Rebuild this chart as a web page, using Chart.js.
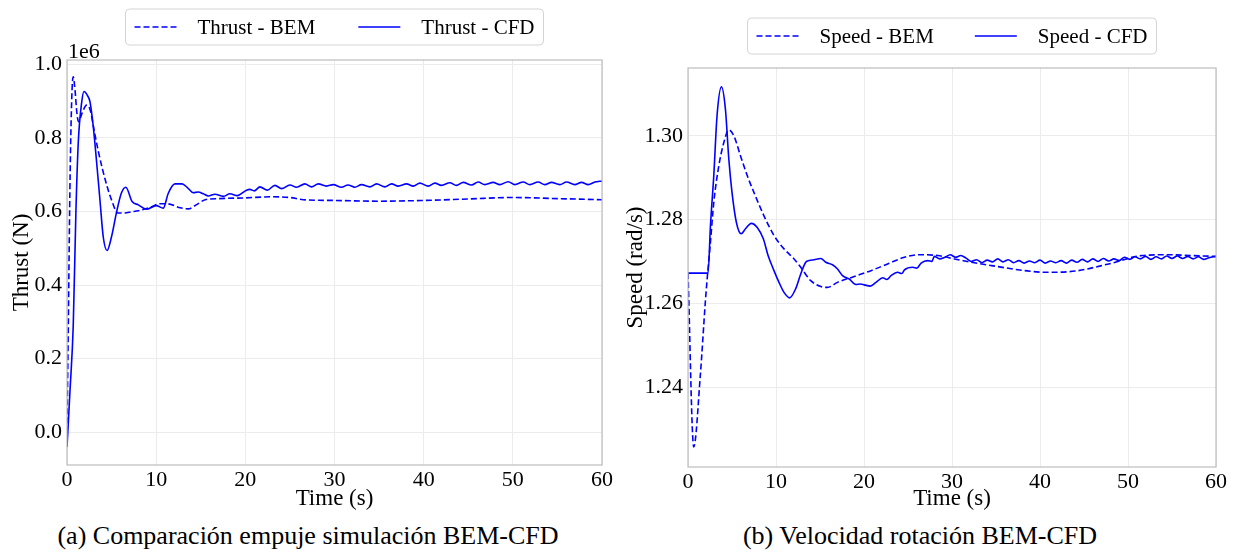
<!DOCTYPE html>
<html>
<head>
<meta charset="utf-8">
<script src="https://cdn.jsdelivr.net/npm/chart.js@4.4.1/dist/chart.umd.min.js"></script>
<style>
  html, body { margin: 0; padding: 0; background: #fff; }
  body { width: 1236px; height: 552px; position: relative; overflow: hidden; font-family: "Liberation Serif", "Times New Roman", serif; }
  .box { position: absolute; top: 0; }
  .cap { position: absolute; top: 521px; font-size: 26px; line-height: 30px; color: #000; white-space: nowrap; transform: translateX(-50%); }
</style>
</head>
<body>
<div class="box" style="left:0;width:618px;height:520px"><canvas id="c1" width="618" height="520"></canvas></div>
<div class="box" style="left:620px;width:616px;height:520px"><canvas id="c2" width="616" height="520"></canvas></div>
<div class="cap" style="left:308px">(a) Comparación empuje simulación BEM-CFD</div>
<div class="cap" style="left:920px">(b) Velocidad rotación BEM-CFD</div>
<script>
// ---------- DATA ----------
const timeTicks = [0, 10, 20, 30, 40, 50, 60];
const thrustTicks = [0.0, 0.2, 0.4, 0.6, 0.8, 1.0];
const speedTicks = [1.24, 1.26, 1.28, 1.30];

// Thrust (x1e6 N) - BEM
const thrustBemTime = [0, 0.15, 0.35, 0.55, 0.7, 0.9, 1.1, 1.3, 1.7, 2.2, 2.6, 3.1, 3.5, 4.0, 4.5, 5.0, 5.7, 6.5, 7.2, 8.0, 9.5, 10.4, 11.5, 12.7, 13.6, 14.5, 15.5, 17, 20, 23, 25, 26.5, 30, 35, 40, 45, 50, 55, 60];
const thrustBemValues = [0.0, 0.30, 0.70, 0.92, 0.966, 0.93, 0.87, 0.844, 0.868, 0.889, 0.876, 0.813, 0.765, 0.713, 0.668, 0.631, 0.596, 0.596, 0.599, 0.602, 0.613, 0.621, 0.620, 0.610, 0.607, 0.618, 0.632, 0.635, 0.637, 0.640, 0.638, 0.632, 0.630, 0.628, 0.630, 0.634, 0.638, 0.635, 0.632];

// Thrust (x1e6 N) - CFD
const thrustCfdTime = [0, 0.33, 0.7, 1.0, 1.27, 1.64, 1.9, 2.3, 2.58, 2.95, 3.3, 3.7, 4.07, 4.5, 5.0, 5.53, 6.1, 6.6, 7.3, 8.0, 8.9, 10.0, 10.8, 11.35, 12.1, 12.9, 13.5, 14.16, 14.72, 15.3, 15.85, 16.59, 17.53, 18.27, 19.1, 20.14, 20.5, 21.0, 21.64, 22.46, 23.32, 24.07, 25.0, 25.75, 26.68, 27.43, 28.18, 29.11, 29.86, 30.79, 31.5, 32.29, 33.03, 33.97, 34.72, 35.65, 36.40, 37.14, 38.08, 38.83, 39.57, 40.51, 41.26, 42.0, 42.94, 43.68, 44.43, 45.37, 46.11, 46.86, 47.79, 48.54, 49.48, 50.22, 51.16, 51.91, 52.84, 53.59, 54.34, 55.27, 56.02, 56.95, 57.7, 58.45, 59.2, 60];
const thrustCfdValues = [-0.04, 0.11, 0.29, 0.60, 0.79, 0.895, 0.926, 0.915, 0.898, 0.83, 0.74, 0.63, 0.53, 0.494, 0.532, 0.595, 0.65, 0.666, 0.627, 0.618, 0.606, 0.616, 0.609, 0.649, 0.675, 0.675, 0.665, 0.651, 0.653, 0.648, 0.642, 0.647, 0.641, 0.648, 0.643, 0.658, 0.660, 0.656, 0.667, 0.658, 0.671, 0.662, 0.672, 0.666, 0.675, 0.667, 0.675, 0.669, 0.673, 0.666, 0.672, 0.666, 0.673, 0.667, 0.675, 0.667, 0.675, 0.669, 0.675, 0.669, 0.677, 0.669, 0.677, 0.671, 0.678, 0.671, 0.679, 0.672, 0.680, 0.673, 0.679, 0.673, 0.681, 0.673, 0.680, 0.673, 0.680, 0.673, 0.679, 0.673, 0.680, 0.673, 0.679, 0.673, 0.680, 0.683];

// Speed (rad/s) - BEM
const speedBemTime = [0, 0.65, 1.4, 1.97, 2.24, 2.55, 2.93, 3.5, 4.07, 4.64, 5.21, 5.97, 6.73, 7.49, 8.63, 9.77, 10.91, 12.05, 12.81, 13.95, 15.09, 15.85, 16.99, 18.89, 20.79, 22.69, 24.6, 26.3, 28.39, 30.29, 32.2, 34.5, 38.3, 40.6, 44.0, 47.8, 51.6, 54.6, 57.3, 60];
const speedBemValues = [1.2672, 1.2257, 1.2428, 1.2603, 1.2674, 1.2746, 1.2841, 1.2928, 1.2984, 1.3014, 1.3000, 1.2952, 1.2905, 1.2865, 1.2809, 1.2762, 1.2730, 1.2706, 1.2686, 1.2654, 1.2640, 1.2638, 1.2650, 1.2664, 1.2678, 1.2694, 1.2710, 1.2716, 1.2714, 1.2706, 1.2698, 1.2690, 1.2678, 1.2674, 1.2677, 1.2694, 1.2714, 1.2716, 1.2714, 1.2712];

// Speed (rad/s) - CFD
const speedCfdTime = [0, 2.28, 2.55, 2.93, 3.3, 3.8, 4.25, 4.64, 5.0, 5.5, 6.04, 6.53, 7.2, 7.87, 8.56, 9.1, 9.77, 10.34, 10.91, 11.55, 12.24, 12.81, 13.38, 13.77, 14.33, 15.09, 15.66, 16.42, 16.99, 17.56, 18.32, 19.08, 19.6, 20.03, 20.72, 21.36, 22.13, 22.6, 23.07, 23.83, 24.3, 24.6, 25.54, 26.0, 26.49, 27.25, 27.7, 28.0, 28.6, 29.2, 29.8, 30.4, 31.0, 31.6, 32.2, 32.8, 33.4, 34.0, 34.6, 35.2, 35.8, 36.4, 37.0, 37.6, 38.2, 38.8, 39.4, 40.0, 40.6, 41.2, 41.8, 42.4, 43.0, 43.6, 44.2, 44.8, 45.4, 46.0, 46.6, 47.2, 47.8, 48.4, 49.0, 49.6, 50.2, 50.8, 51.4, 52.0, 52.6, 53.2, 53.8, 54.4, 55.0, 55.6, 56.2, 56.8, 57.4, 58.0, 58.6, 59.2, 60.0];
const speedCfdValues = [1.2672, 1.2672, 1.2785, 1.2905, 1.3048, 1.3117, 1.3064, 1.2944, 1.2865, 1.2793, 1.2766, 1.2778, 1.2791, 1.2781, 1.2754, 1.2714, 1.2678, 1.2650, 1.2626, 1.2613, 1.2635, 1.2670, 1.2698, 1.2702, 1.2704, 1.2707, 1.2698, 1.2692, 1.2682, 1.2666, 1.2658, 1.2645, 1.2646, 1.2644, 1.2641, 1.2650, 1.2661, 1.2657, 1.2666, 1.2674, 1.2671, 1.2680, 1.2686, 1.2684, 1.2696, 1.2702, 1.2700, 1.2712, 1.2706, 1.2710, 1.2716, 1.2710, 1.2714, 1.2708, 1.2700, 1.2704, 1.2697, 1.2703, 1.2699, 1.2706, 1.2699, 1.2704, 1.2697, 1.2702, 1.2696, 1.2701, 1.2697, 1.2703, 1.2696, 1.2701, 1.2697, 1.2702, 1.2696, 1.2703, 1.2698, 1.2705, 1.2699, 1.2706, 1.2700, 1.2707, 1.2701, 1.2706, 1.2702, 1.2710, 1.2705, 1.2711, 1.2706, 1.2712, 1.2705, 1.2711, 1.2706, 1.2713, 1.2707, 1.2713, 1.2707, 1.2712, 1.2706, 1.2711, 1.2705, 1.2709, 1.2712];

// ---------- HELPERS ----------
const FONT = '"Liberation Serif", "Times New Roman", serif';
const BLUE = '#0000ff';
const pts = (xs, ys) => xs.map((x, i) => ({x: x, y: ys[i]}));

const framePlugin = {
  id: 'frame',
  afterDatasetsDraw(chart) {
    const {ctx, chartArea: a} = chart;
    ctx.save();
    ctx.strokeStyle = '#bdbdbd';
    ctx.lineWidth = 1.2;
    ctx.strokeRect(a.left, a.top, a.right - a.left, a.bottom - a.top);
    ctx.restore();
  }
};

const legendPlugin = {
  id: 'boxLegend',
  afterDraw(chart, args, opts) {
    const ctx = chart.ctx;
    ctx.save();
    ctx.font = opts.fontSize + 'px ' + FONT;
    const items = chart.data.datasets.map(ds => ({
      label: ds.label, dash: ds.borderDash || [], color: ds.borderColor, w: ctx.measureText(ds.label).width
    }));
    const pad = opts.pad, sample = opts.sample, gap = opts.gap, itemGap = opts.itemGap;
    let total = pad * 2;
    items.forEach((it, i) => { total += sample + gap + it.w + (i ? itemGap : 0); });
    const a = chart.chartArea;
    const x0 = (a.left + a.right) / 2 + opts.shift - total / 2;
    const y0 = opts.top, h = opts.height;
    const r = 4;
    ctx.beginPath();
    ctx.moveTo(x0 + r, y0);
    ctx.arcTo(x0 + total, y0, x0 + total, y0 + h, r);
    ctx.arcTo(x0 + total, y0 + h, x0, y0 + h, r);
    ctx.arcTo(x0, y0 + h, x0, y0, r);
    ctx.arcTo(x0, y0, x0 + total, y0, r);
    ctx.closePath();
    ctx.fillStyle = '#ffffff';
    ctx.fill();
    ctx.strokeStyle = '#d4d4d4';
    ctx.lineWidth = 1;
    ctx.stroke();
    let x = x0 + pad;
    const cy = y0 + h / 2;
    items.forEach((it, i) => {
      if (i) x += itemGap;
      ctx.beginPath();
      ctx.setLineDash(it.dash);
      ctx.strokeStyle = it.color;
      ctx.lineWidth = 1.6;
      ctx.moveTo(x, cy);
      ctx.lineTo(x + sample, cy);
      ctx.stroke();
      ctx.setLineDash([]);
      x += sample + gap;
      ctx.fillStyle = '#000';
      ctx.textBaseline = 'middle';
      ctx.textAlign = 'left';
      ctx.fillText(it.label, x, cy + 1);
      x += it.w;
    });
    ctx.restore();
  }
};

const offsetTextPlugin = {
  id: 'offsetText',
  afterDraw(chart, args, opts) {
    if (!opts.text) return;
    const {ctx, chartArea: a} = chart;
    ctx.save();
    ctx.font = opts.fontSize + 'px ' + FONT;
    ctx.fillStyle = '#000';
    ctx.textAlign = 'left';
    ctx.textBaseline = 'alphabetic';
    ctx.fillText(opts.text, a.left + 1, a.top - 2);
    ctx.restore();
  }
};

Chart.defaults.font.family = FONT;
Chart.defaults.color = '#000';

function makeChart(id, cfg) {
  return new Chart(document.getElementById(id), {
    type: 'line',
    data: {
      datasets: [
        { label: cfg.labels[0], data: pts(cfg.bemT, cfg.bemV), borderColor: BLUE, borderWidth: 1.6, borderDash: [6, 3], pointRadius: 0, fill: false, cubicInterpolationMode: 'monotone' },
        { label: cfg.labels[1], data: pts(cfg.cfdT, cfg.cfdV), borderColor: BLUE, borderWidth: 1.6, pointRadius: 0, fill: false, cubicInterpolationMode: 'monotone' }
      ]
    },
    options: {
      responsive: false,
      animation: false,
      devicePixelRatio: 1,
      layout: { padding: { top: cfg.top, left: 0, right: cfg.right, bottom: 0 } },
      plugins: {
        legend: { display: false },
        tooltip: { enabled: false },
        boxLegend: cfg.legend,
        offsetText: { text: cfg.offsetText, fontSize: 22 }
      },
      scales: {
        x: {
          type: 'linear', min: 0, max: 60,
          afterBuildTicks: s => { s.ticks = timeTicks.map(v => ({value: v})); },
          afterFit: s => { s.height = cfg.xHeight; },
          grid: { color: '#ececec', lineWidth: 1, drawTicks: false },
          border: { display: false },
          ticks: { font: { size: 22 }, padding: 2, maxRotation: 0, callback: v => String(v) },
          title: { display: true, text: 'Time (s)', font: { size: 23 }, padding: { top: 0, bottom: cfg.xTitlePad } }
        },
        y: {
          type: 'linear', min: cfg.ymin, max: cfg.ymax,
          afterBuildTicks: s => { s.ticks = cfg.yTicks.map(v => ({value: v})); },
          afterFit: s => { s.width = cfg.yWidth; },
          grid: { color: '#ececec', lineWidth: 1, drawTicks: false },
          border: { display: false },
          ticks: { font: { size: 22 }, padding: 5, callback: v => v.toFixed(cfg.dec) },
          title: { display: true, text: cfg.yTitle, font: { size: 23 }, padding: { top: cfg.yTitlePad, bottom: 0 } }
        }
      }
    },
    plugins: [framePlugin, legendPlugin, offsetTextPlugin]
  });
}

makeChart('c1', {
  labels: ['Thrust - BEM', 'Thrust - CFD'],
  bemT: thrustBemTime, bemV: thrustBemValues, cfdT: thrustCfdTime, cfdV: thrustCfdValues,
  top: 60, right: 16, xHeight: 55, xTitlePad: 7, yWidth: 67, yTitlePad: 8,
  ymin: -0.089, ymax: 1.0117, yTicks: thrustTicks, dec: 1, yTitle: 'Thrust (N)',
  offsetText: '1e6',
  legend: { fontSize: 21, pad: 9, sample: 42, gap: 21, itemGap: 43, shift: 0, top: 9, height: 36 }
});

makeChart('c2', {
  labels: ['Speed - BEM', 'Speed - CFD'],
  bemT: speedBemTime, bemV: speedBemValues, cfdT: speedCfdTime, cfdV: speedCfdValues,
  top: 68, right: 20, xHeight: 53, xTitlePad: 7, yWidth: 68, yTitlePad: 2,
  ymin: 1.2209, ymax: 1.3162, yTicks: speedTicks, dec: 2, yTitle: 'Speed (rad/s)',
  offsetText: '',
  legend: { fontSize: 21, pad: 9, sample: 42, gap: 21, itemGap: 41, shift: 0, top: 18, height: 36 }
});
</script>
</body>
</html>
